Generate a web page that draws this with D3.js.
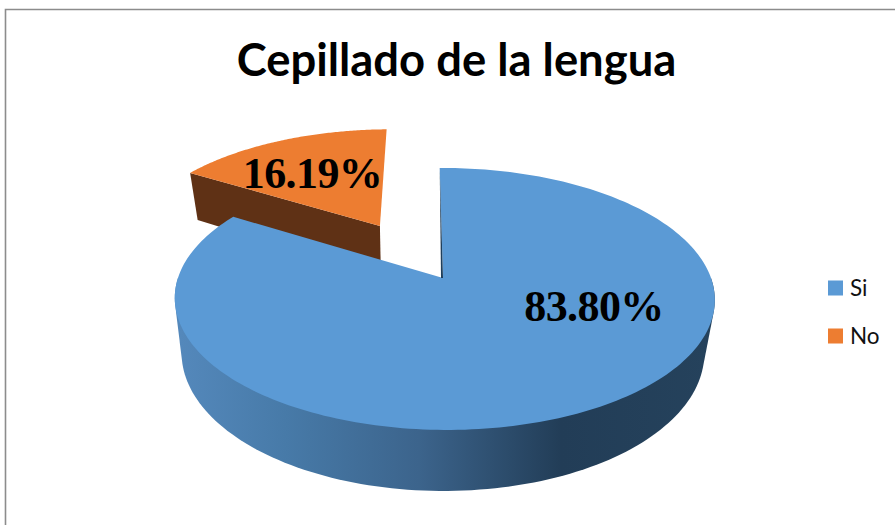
<!DOCTYPE html>
<html>
<head>
<meta charset="utf-8">
<script src="https://cdn.jsdelivr.net/npm/d3@7"></script>
<style>
  html, body { margin: 0; padding: 0; background: #fff; }
  svg { display: block; }
</style>
</head>
<body>
<div id="chart"></div>
<script>
const titleText = 'Cepillado de la lengua';
const categories = ['Si', 'No'];
const seriesValues = [83.80, 16.19];
const valueLabels = ['83.80%', '16.19%'];
const sliceColors = ['#5b9ad5', '#ed7d31'];
const explodes = [0, 0.5];

const width = 895;
const height = 525;

// the pie is a tilted disc, so the unit circle goes through a small perspective
const topPlane = { x0: 441, y0: 278, rx: 266.5, ry: 127.6, p: 0.16, q: 0.013, skew: -1.5 };
const basePlane = { x0: 439.5, y0: 331, rx: 258, ry: 134.5, p: 0.159, q: 0.013, skew: 0 };

const project = (plane, X, Y) => {
  const w = 1 + plane.p * Y - plane.q * X;
  return [plane.x0 + (plane.rx * X + plane.skew * Y) / w, plane.y0 - plane.ry * Y / w];
};

const svg = d3.select('#chart').append('svg')
  .attr('width', width)
  .attr('height', height)
  .attr('viewBox', `0 0 ${width} ${height}`);

const defs = svg.append('defs');
const wallGradient = defs.append('linearGradient')
  .attr('id', 'wall')
  .attr('gradientUnits', 'userSpaceOnUse')
  .attr('x1', 180).attr('x2', 710).attr('y1', 0).attr('y2', 0);
[[0, '#5488bb'], [0.2, '#477aa8'], [0.45, '#3c648c'], [0.72, '#223d57'], [1, '#25425c']]
  .forEach(s => wallGradient.append('stop').attr('offset', s[0]).attr('stop-color', s[1]));

// frame, only top and left are visible
svg.append('path')
  .attr('d', d3.line()([[5.5, height], [5.5, 9.5], [width, 9.5]]))
  .attr('fill', 'none')
  .attr('stroke', '#8c8c8c')
  .attr('stroke-width', 1.6);

svg.append('text')
  .attr('x', 456.5)
  .attr('y', 76)
  .attr('text-anchor', 'middle')
  .style('font', 'bold 45.4px Lato')
  .attr('fill', '#000')
  .text(titleText);

const pie = d3.pie().sort(null).value(d => d);
const slices = pie(seriesValues).map((s, i) => {
  const mid = (s.startAngle + s.endAngle) / 2;
  return {
    start: s.startAngle,
    end: s.endAngle,
    ox: Math.sin(mid) * explodes[i],
    oy: Math.cos(mid) * explodes[i],
    color: sliceColors[i]
  };
});

const rimPoint = (plane, s, a, r = 1) => project(plane, s.ox + r * Math.sin(a), s.oy + r * Math.cos(a));
const rim = (plane, s, from, to, n = 120) =>
  d3.range(n + 1).map(i => rimPoint(plane, s, from + (to - from) * i / n));
const line = d3.line();

const blue = slices[0];
const orange = slices[1];

// orange slice first, it sits behind the big one
svg.append('path')
  .attr('d', line.curve(d3.curveLinearClosed)([
    rimPoint(topPlane, orange, orange.start),
    project(topPlane, orange.ox, orange.oy),
    project(basePlane, orange.ox, orange.oy),
    rimPoint(basePlane, orange, orange.start)
  ]))
  .attr('fill', '#5f3115');

svg.append('path')
  .attr('d', line([project(topPlane, orange.ox, orange.oy), ...rim(topPlane, orange, orange.start, orange.end)]))
  .attr('fill', orange.color);

// blue side wall, from right to left along the front
const frontTop = rim(topPlane, blue, Math.PI / 2, 3 * Math.PI / 2);
const frontBase = rim(basePlane, blue, Math.PI / 2, 3 * Math.PI / 2);
svg.append('path')
  .attr('d', line(d3.polygonHull([...frontTop, ...frontBase])))
  .attr('fill', 'url(#wall)');

// the cut at twelve o'clock leans a little, its apex sits right of the disc centre
const apex = project({ ...topPlane, x0: topPlane.x0 + 2 }, 0, 0);

svg.append('path')
  .attr('d', line([apex, ...rim(topPlane, blue, blue.start, blue.end, 240)]))
  .attr('fill', blue.color);

// thin dark sliver along that cut
svg.append('path')
  .attr('d', line([
    rimPoint(topPlane, blue, blue.start),
    apex,
    project(topPlane, 0, 0)
  ]))
  .attr('fill', '#1f3f5c');

// data labels
const labelPos = [[594, 321], [312.5, 188]];
svg.selectAll('text.value')
  .data(valueLabels)
  .enter().append('text')
  .attr('class', 'value')
  .attr('x', (d, i) => labelPos[i][0])
  .attr('y', (d, i) => labelPos[i][1])
  .attr('text-anchor', 'middle')
  .style('font', 'bold 44px "Liberation Serif"')
  .style('letter-spacing', '-0.6px')
  .attr('fill', '#000')
  .text(d => d);

// legend
const legendY = d3.scalePoint().domain(categories).range([288, 336]);
const legend = svg.selectAll('g.legend')
  .data(categories)
  .enter().append('g')
  .attr('class', 'legend')
  .attr('transform', d => `translate(828,${legendY(d)})`);
legend.append('rect')
  .attr('y', -7.5)
  .attr('width', 15)
  .attr('height', 15)
  .attr('fill', (d, i) => sliceColors[i]);
legend.append('text')
  .attr('x', 22)
  .attr('y', 8)
  .style('font', '22.5px Lato')
  .attr('fill', '#111')
  .text(d => d);
</script>
</body>
</html>
